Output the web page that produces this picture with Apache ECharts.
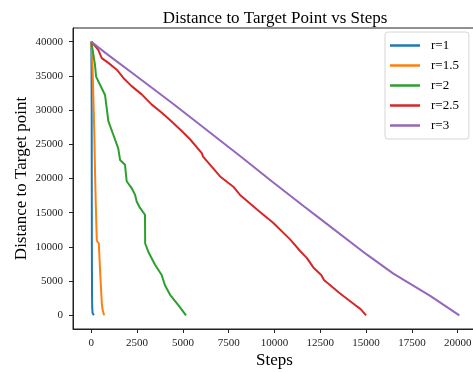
<!DOCTYPE html>
<html>
<head>
<meta charset="utf-8">
<script src="https://cdn.jsdelivr.net/npm/echarts@6/dist/echarts.min.js"></script>
<style>
  html, body { margin: 0; padding: 0; background: #fff; }
  #chart { width: 473px; height: 372px; }
</style>
</head>
<body>
<div id="chart"></div>
<script>
// 数据：每条曲线 [步数, 距离]
let seriesNames = ['r=1', 'r=1.5', 'r=2', 'r=2.5', 'r=3']
let colors = ['#1f77b4', '#ff7f0e', '#2ca02c', '#d62728', '#9467bd']

let r1 = [[0, 40000], [10, 36000], [20, 30000], [25, 20000], [30, 10000], [40, 3000], [50, 1000], [70, 300], [100, 50], [140, 0]]
let r15 = [[0, 40000], [30, 38500], [70, 36200], [130, 30000], [165, 26400], [200, 21300], [240, 16600], [300, 10900], [410, 10500], [475, 6700], [570, 1900], [620, 700], [700, 0]]
let r2 = [[0, 40000], [55, 39100], [200, 36600], [260, 34900], [475, 33700], [750, 32200], [840, 30300], [930, 28400], [1200, 26400], [1470, 24400], [1570, 22700], [1840, 22000], [1930, 19600], [2200, 18600], [2390, 17600], [2480, 16600], [2660, 15700], [2930, 14700], [2940, 10500], [3110, 9300], [3480, 7400], [3840, 5900], [4020, 4400], [4300, 3000], [4750, 1500], [5170, 0]]
let r25 = [[0, 40000], [380, 38800], [570, 37600], [930, 36900], [1390, 35900], [1750, 34700], [2200, 33500], [2750, 32300], [3300, 30800], [3850, 29600], [4400, 28300], [4950, 26900], [5400, 25700], [6030, 23700], [6100, 23200], [7030, 20300], [7750, 18800], [8120, 17600], [9030, 15500], [9940, 13500], [10850, 11100], [11400, 9400], [11760, 8400], [12120, 7000], [12550, 5900], [12650, 5700], [12700, 5150], [13580, 3200], [14400, 1500], [14700, 900], [15000, 0]]
let r3 = [[0, 40000], [750, 38400], [2400, 35100], [4480, 30900], [6300, 27100], [8120, 23300], [9900, 19500], [11600, 15950], [12500, 14100], [15030, 8900], [16490, 6100], [18500, 2850], [20090, 0]]

let xTicks = [0, 2500, 5000, 7500, 10000, 12500, 15000, 17500, 20000]
let yTicks = [0, 5000, 10000, 15000, 20000, 25000, 30000, 35000, 40000]

let font = "'Liberation Serif', 'DejaVu Serif', serif"
let allData = [r1, r15, r2, r25, r3]

let myChart = echarts.init(document.getElementById('chart'), null, { renderer: 'canvas' })
let option = {
    animation: false,
    backgroundColor: '#fff',
    title: {
        text: 'Distance to Target Point vs Steps',
        left: 270,
        textAlign: 'center',
        top: 5,
        textStyle: { fontFamily: font, fontSize: 17, fontWeight: 'normal', color: '#000' }
    },
    legend: {
        orient: 'vertical',
        left: 385,
        top: 32,
        data: seriesNames,
        icon: 'rect',
        itemWidth: 30,
        itemHeight: 2.5,
        itemGap: 7,
        padding: [7, 10, 7, 5],
        borderColor: '#d6d6d6',
        borderWidth: 1,
        borderRadius: 3,
        backgroundColor: '#fff',
        textStyle: { fontFamily: font, fontSize: 13, lineHeight: 13, color: '#000', padding: [0, 0, 0, 6] }
    },
    grid: {
        left: 73, top: 28, width: 403, height: 301,
        outerBoundsMode: 'none',
        show: true, borderColor: '#222', borderWidth: 1
    },
    xAxis: {
        type: 'value',
        min: -1000, max: 21000,
        name: 'Steps',
        nameLocation: 'middle',
        nameGap: 23,
        nameMoveOverlap: false,
        nameTextStyle: { fontFamily: font, fontSize: 17, color: '#000' },
        axisLine: { show: true, onZero: false, lineStyle: { color: '#222', width: 1 } },
        axisTick: { show: true, inside: false, length: 4, customValues: xTicks, lineStyle: { color: '#222' } },
        axisLabel: {
            customValues: xTicks, margin: 9, fontFamily: font, fontSize: 11, color: '#222',
            formatter: function (v) { return String(v) }
        },
        splitLine: { show: false }
    },
    yAxis: {
        type: 'value',
        min: -2000, max: 42000,
        name: 'Distance to Target point',
        nameLocation: 'middle',
        nameGap: 43,
        nameMoveOverlap: false,
        nameTextStyle: { fontFamily: font, fontSize: 17, color: '#000' },
        axisLine: { show: true, onZero: false, lineStyle: { color: '#222', width: 1 } },
        axisTick: { show: true, inside: false, length: 4, customValues: yTicks, lineStyle: { color: '#222' } },
        axisLabel: {
            customValues: yTicks, margin: 10, fontFamily: font, fontSize: 11, color: '#222',
            formatter: function (v) { return String(v) }
        },
        splitLine: { show: false }
    },
    series: seriesNames.map(function (name, i) {
        return {
            name: name,
            type: 'line',
            data: allData[i],
            showSymbol: false,
            color: colors[i],
            lineStyle: { width: 2, color: colors[i] },
            clip: true
        }
    })
}
myChart.setOption(option)
</script>
</body>
</html>
